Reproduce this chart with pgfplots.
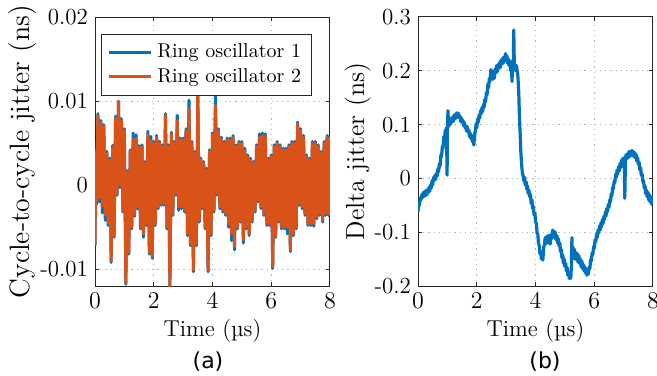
\documentclass[border=0pt]{standalone}
\usepackage{fontspec}
\usepackage{pgfplots}
\pgfplotsset{compat=1.18}
\newfontfamily\labelsans{DejaVu Sans}
\definecolor{mblue}{RGB}{0,114,189}
\definecolor{morange}{RGB}{217,83,25}
\pgfplotsset{
  myaxis/.style={
    scale only axis, width=117.5pt, height=134.5pt,
    xmin=0, xmax=8, xtick={0,2,4,6,8},
    axis line style={black!85, line width=0.5pt},
    tick style={black!85, line width=0.5pt},
    tick align=inside, major tick length=2pt,
    grid=major, grid style={black!30, line width=0.5pt, dash pattern=on 0.6pt off 2pt},
    tick label style={font=\fontsize{11.5}{13}\selectfont},
    xlabel={Time (µs)},
    xlabel style={font=\fontsize{11.5}{13}\selectfont, at={(axis description cs:0.5,-0.167)}, anchor=center},
    scaled y ticks=false,
    clip=true,
  }
}
\begin{document}
\begin{tikzpicture}[x=1pt,y=1pt]
\path[use as bounding box] (0,0) rectangle (328.5,187.5);
\begin{axis}[myaxis, at={(47.5pt,44.5pt)}, anchor=south west,
  ymin=-0.012, ymax=0.02, ytick={-0.01,0,0.01,0.02}, yticklabels={-0.01,0,0.01,0.02},
  ylabel={Cycle-to-cycle jitter (ns)},
  ylabel style={font=\fontsize{14}{16}\selectfont, at={(axis description cs:-0.3085,0.5)}, anchor=center, rotate=0},
  legend style={at={(axis description cs:0.0255,0.938)}, anchor=north west, draw=black!85, line width=0.5pt,
    font=\fontsize{10}{12}\selectfont, inner xsep=3pt, inner ysep=3pt, row sep=0pt, fill=white,
    nodes={inner xsep=2.4pt, inner ysep=1.9pt}},
  legend cell align=left,
  legend image code/.code={\draw[#1, line width=1.5pt] (0pt,0pt) -- (21pt,0pt);},
]
\addplot[mblue, line width=1.5pt, line join=round] coordinates {
(0,-0.0072) (0.03,0.0042) (0.05,-0.0023)
(0.1,0.0085)(0.15,-0.0020)(0.2,0.0077)(0.25,-0.0033)(0.3,0.0072)(0.35,-0.0042)
(0.4,0.0040)(0.45,-0.0048)(0.5,0.0032)(0.55,-0.0092)(0.6,0.0047)(0.65,-0.0062)
(0.7,0.0082)(0.75,-0.0012)(0.8,0.0100)(0.85,-0.0003)(0.9,0.0079)(0.95,-0.0032)
(1.0,0.0067)(1.05,-0.0118)(1.1,0.0017)(1.15,-0.0082)(1.2,0.0042)(1.25,-0.0052)
(1.3,0.0062)(1.35,-0.0037)(1.4,0.0060)(1.45,-0.0028)(1.5,0.0047)(1.55,-0.0052)
(1.6,0.0048)(1.65,-0.0062)(1.7,0.0028)(1.75,-0.0048)(1.8,0.0064)(1.85,-0.0082)
(1.9,0.0058)(1.95,-0.0087)(2.0,0.0052)(2.05,-0.0048)(2.1,0.0059)(2.15,-0.0028)
(2.2,0.0052)(2.25,-0.0024)(2.3,0.0048)(2.35,-0.0024)(2.4,0.0085)(2.45,-0.0052)
(2.5,0.0048)(2.55,-0.0122)(2.6,0.0063)(2.65,-0.0036)(2.7,0.0052)(2.75,-0.0012)
(2.8,0.0083)(2.85,-0.0030)(2.9,0.0056)(2.95,-0.0028)(3.0,0.0056)(3.05,-0.0032)
(3.1,0.0067)(3.15,-0.0060)(3.2,0.0101)(3.25,-0.0072)(3.3,0.0052)(3.35,-0.0103)
(3.4,0.0040)(3.45,-0.0072)(3.5,0.0108)(3.55,-0.0044)(3.6,0.0032)(3.65,-0.0028)
(3.7,0.0028)(3.75,-0.0052)(3.8,0.0020)(3.85,-0.0103)(3.9,0.0042)(3.95,-0.0060)
(4.0,0.0062)(4.05,-0.0032)(4.1,0.0107)(4.15,-0.0012)(4.2,0.0067)(4.25,-0.0028)
(4.3,0.0057)(4.35,-0.0032)(4.4,0.0052)(4.45,-0.0036)(4.5,0.0056)(4.55,-0.0050)
(4.6,0.0056)(4.65,-0.0066)(4.7,0.0059)(4.75,-0.0077)(4.8,0.0048)(4.85,-0.0052)
(4.9,0.0052)(4.95,-0.0044)(5.0,0.0052)(5.05,-0.0069)(5.1,0.0044)(5.15,-0.0052)
(5.2,0.0036)(5.25,-0.0060)(5.3,0.0032)(5.35,-0.0044)(5.4,0.0028)(5.45,-0.0032)
(5.5,0.0048)(5.55,-0.0020)(5.6,0.0061)(5.65,-0.0028)(5.7,0.0062)(5.75,-0.0036)
(5.8,0.0061)(5.85,-0.0048)(5.9,0.0032)(5.95,-0.0048)(6.0,0.0036)(6.05,-0.0099)
(6.1,0.0048)(6.15,-0.0062)(6.2,0.0052)(6.25,-0.0044)(6.3,0.0048)(6.35,-0.0052)
(6.4,0.0044)(6.45,-0.0052)(6.5,0.0044)(6.55,-0.0058)(6.6,0.0048)(6.65,-0.0079)
(6.7,0.0052)(6.75,-0.0060)(6.8,0.0052)(6.85,-0.0052)(6.9,0.0075)(6.95,-0.0024)
(7.0,0.0067)(7.05,-0.0028)(7.1,0.0059)(7.15,-0.0036)(7.2,0.0036)(7.25,-0.0048)
(7.3,0.0032)(7.35,-0.0048)(7.4,0.0052)(7.45,-0.0049)(7.5,0.0052)(7.55,-0.0040)
(7.6,0.0048)(7.65,-0.0036)(7.7,0.0040)(7.75,-0.0044)(7.8,0.0052)(7.85,-0.0036)
(7.9,0.0059)(7.95,-0.0036)(8.0,0.0059)
};
\addlegendentry{Ring oscillator 1}
\addplot[morange, line width=1.5pt, line join=round] coordinates {
(0,-0.0070) (0.03,0.0040) (0.05,-0.0020)
(0.1,0.0083)(0.15,-0.0015)(0.2,0.0075)(0.25,-0.0025)(0.3,0.0070)(0.35,-0.0035)
(0.4,0.0038)(0.45,-0.0045)(0.5,0.0030)(0.55,-0.0090)(0.6,0.0045)(0.65,-0.0060)
(0.7,0.0080)(0.75,-0.0010)(0.8,0.0099)(0.85,0.0000)(0.9,0.0077)(0.95,-0.0030)
(1.0,0.0065)(1.05,-0.0116)(1.1,0.0015)(1.15,-0.0080)(1.2,0.0040)(1.25,-0.0050)
(1.3,0.0055)(1.35,-0.0035)(1.4,0.0055)(1.45,-0.0026)(1.5,0.0045)(1.55,-0.0050)
(1.6,0.0046)(1.65,-0.0058)(1.7,0.0026)(1.75,-0.0046)(1.8,0.0060)(1.85,-0.0080)
(1.9,0.0053)(1.95,-0.0085)(2.0,0.0050)(2.05,-0.0046)(2.1,0.0057)(2.15,-0.0026)
(2.2,0.0050)(2.25,-0.0022)(2.3,0.0046)(2.35,-0.0022)(2.4,0.0083)(2.45,-0.0050)
(2.5,0.0046)(2.55,-0.0120)(2.6,0.0061)(2.65,-0.0034)(2.7,0.0050)(2.75,-0.0010)
(2.8,0.0077)(2.85,-0.0026)(2.9,0.0054)(2.95,-0.0026)(3.0,0.0054)(3.05,-0.0030)
(3.1,0.0065)(3.15,-0.0058)(3.2,0.0091)(3.25,-0.0070)(3.3,0.0050)(3.35,-0.0101)
(3.4,0.0038)(3.45,-0.0070)(3.5,0.0111)(3.55,-0.0042)(3.6,0.0030)(3.65,-0.0026)
(3.7,0.0026)(3.75,-0.0050)(3.8,0.0018)(3.85,-0.0101)(3.9,0.0040)(3.95,-0.0058)
(4.0,0.0060)(4.05,-0.0030)(4.1,0.0095)(4.15,-0.0010)(4.2,0.0065)(4.25,-0.0026)
(4.3,0.0055)(4.35,-0.0030)(4.4,0.0050)(4.45,-0.0034)(4.5,0.0054)(4.55,-0.0046)
(4.6,0.0054)(4.65,-0.0058)(4.7,0.0057)(4.75,-0.0073)(4.8,0.0046)(4.85,-0.0050)
(4.9,0.0050)(4.95,-0.0042)(5.0,0.0050)(5.05,-0.0065)(5.1,0.0042)(5.15,-0.0050)
(5.2,0.0034)(5.25,-0.0058)(5.3,0.0030)(5.35,-0.0042)(5.4,0.0026)(5.45,-0.0030)
(5.5,0.0046)(5.55,-0.0018)(5.6,0.0057)(5.65,-0.0026)(5.7,0.0059)(5.75,-0.0034)
(5.8,0.0059)(5.85,-0.0046)(5.9,0.0030)(5.95,-0.0046)(6.0,0.0034)(6.05,-0.0097)
(6.1,0.0046)(6.15,-0.0060)(6.2,0.0050)(6.25,-0.0042)(6.3,0.0046)(6.35,-0.0050)
(6.4,0.0042)(6.45,-0.0050)(6.5,0.0042)(6.55,-0.0050)(6.6,0.0046)(6.65,-0.0077)
(6.7,0.0050)(6.75,-0.0058)(6.8,0.0050)(6.85,-0.0050)(6.9,0.0073)(6.95,-0.0022)
(7.0,0.0065)(7.05,-0.0026)(7.1,0.0057)(7.15,-0.0034)(7.2,0.0034)(7.25,-0.0046)
(7.3,0.0030)(7.35,-0.0046)(7.4,0.0050)(7.45,-0.0046)(7.5,0.0050)(7.55,-0.0038)
(7.6,0.0046)(7.65,-0.0034)(7.7,0.0038)(7.75,-0.0042)(7.8,0.0050)(7.85,-0.0034)
(7.9,0.0057)(7.95,-0.0034)(8.0,0.0057)
};
\addlegendentry{Ring oscillator 2}
\end{axis}
\begin{axis}[myaxis, at={(209pt,44.5pt)}, anchor=south west,
  ymin=-0.2, ymax=0.3, ytick={-0.2,-0.1,0,0.1,0.2,0.3}, yticklabels={-0.2,-0.1,0,0.1,0.2,0.3},
  ylabel={Delta jitter (ns)},
  ylabel style={font=\fontsize{13}{15}\selectfont, at={(axis description cs:-0.257,0.5)}, anchor=center},
]
\addplot[mblue, line width=1.6pt, line join=round] coordinates {
(0.00,-0.062) (0.03,-0.048) (0.05,-0.050) (0.08,-0.036) (0.10,-0.040) (0.13,-0.030) (0.15,-0.036) (0.18,-0.026)
(0.20,-0.034) (0.23,-0.024) (0.25,-0.032) (0.28,-0.022) (0.30,-0.031) (0.33,-0.020) (0.35,-0.027) (0.38,-0.016)
(0.40,-0.024) (0.43,-0.012) (0.45,-0.018) (0.48,-0.004) (0.50,-0.012) (0.53,0.002) (0.55,-0.004) (0.58,0.006)
(0.60,-0.002) (0.63,0.010) (0.65,0.004) (0.68,0.018) (0.70,0.012) (0.73,0.028) (0.75,0.022) (0.78,0.044)
(0.80,0.040) (0.83,0.060) (0.85,0.055) (0.88,0.078) (0.90,0.070) (0.93,0.090) (0.95,0.082) (0.97,0.094)
(0.99,0.006) (1.00,0.088) (1.02,0.126) (1.04,0.096) (1.07,0.110) (1.10,0.100) (1.13,0.112) (1.15,0.104)
(1.18,0.114) (1.20,0.106) (1.23,0.118) (1.25,0.110) (1.28,0.120) (1.30,0.112) (1.33,0.122) (1.35,0.114)
(1.38,0.121) (1.40,0.113) (1.43,0.116) (1.45,0.106) (1.48,0.112) (1.50,0.104) (1.53,0.108) (1.55,0.098)
(1.58,0.104) (1.60,0.094) (1.63,0.098) (1.65,0.088) (1.68,0.096) (1.70,0.086) (1.73,0.090) (1.75,0.078)
(1.78,0.084) (1.80,0.074) (1.83,0.080) (1.85,0.068) (1.88,0.072) (1.90,0.062) (1.93,0.082) (1.95,0.088)
(1.98,0.102) (2.00,0.094) (2.03,0.110) (2.05,0.104) (2.08,0.118) (2.10,0.112) (2.13,0.126) (2.15,0.120)
(2.18,0.132) (2.20,0.124) (2.23,0.138) (2.25,0.132) (2.28,0.148) (2.30,0.142) (2.33,0.160) (2.35,0.155)
(2.38,0.176) (2.40,0.168) (2.43,0.186) (2.45,0.180) (2.48,0.202) (2.50,0.192) (2.53,0.200) (2.55,0.184)
(2.58,0.198) (2.60,0.186) (2.63,0.204) (2.65,0.196) (2.68,0.210) (2.70,0.198) (2.73,0.212) (2.75,0.204)
(2.78,0.216) (2.80,0.206) (2.83,0.220) (2.85,0.212) (2.88,0.224) (2.90,0.214) (2.93,0.226) (2.95,0.218)
(2.98,0.232) (3.00,0.220) (3.03,0.228) (3.05,0.214) (3.08,0.222) (3.10,0.210) (3.13,0.218) (3.15,0.200)
(3.18,0.212) (3.20,0.180) (3.22,0.214) (3.24,0.200) (3.26,0.276) (3.28,0.205) (3.30,0.212) (3.33,0.200)
(3.35,0.210) (3.38,0.198) (3.40,0.190) (3.43,0.160) (3.45,0.120) (3.48,0.080) (3.50,0.050) (3.53,0.024)
(3.55,0.012) (3.58,0.004) (3.60,-0.004) (3.63,0.002) (3.65,-0.012) (3.68,-0.006) (3.70,-0.020) (3.73,-0.014)
(3.75,-0.028) (3.78,-0.022) (3.80,-0.034) (3.83,-0.030) (3.85,-0.046) (3.88,-0.040) (3.90,-0.056) (3.93,-0.052)
(3.95,-0.068) (3.98,-0.064) (4.00,-0.080) (4.03,-0.084) (4.05,-0.100) (4.08,-0.104) (4.10,-0.120) (4.13,-0.126)
(4.15,-0.140) (4.18,-0.136) (4.20,-0.150) (4.23,-0.140) (4.25,-0.152) (4.28,-0.128) (4.30,-0.124) (4.33,-0.110)
(4.35,-0.122) (4.38,-0.108) (4.40,-0.118) (4.43,-0.106) (4.45,-0.120) (4.48,-0.110) (4.50,-0.122) (4.53,-0.104)
(4.55,-0.112) (4.58,-0.096) (4.60,-0.106) (4.63,-0.098) (4.65,-0.110) (4.68,-0.100) (4.70,-0.114) (4.73,-0.106)
(4.75,-0.120) (4.78,-0.112) (4.80,-0.126) (4.83,-0.120) (4.85,-0.136) (4.88,-0.132) (4.90,-0.148) (4.93,-0.142)
(4.95,-0.158) (4.98,-0.150) (5.00,-0.164) (5.03,-0.158) (5.05,-0.172) (5.08,-0.166) (5.10,-0.180) (5.13,-0.174)
(5.15,-0.186) (5.18,-0.178) (5.20,-0.186) (5.22,-0.166) (5.24,-0.110) (5.26,-0.150) (5.28,-0.128) (5.30,-0.146)
(5.33,-0.132) (5.35,-0.150) (5.38,-0.138) (5.40,-0.152) (5.43,-0.140) (5.45,-0.156) (5.48,-0.144) (5.50,-0.158)
(5.53,-0.150) (5.55,-0.164) (5.58,-0.154) (5.60,-0.168) (5.63,-0.160) (5.65,-0.172) (5.68,-0.164) (5.70,-0.176)
(5.73,-0.168) (5.75,-0.180) (5.78,-0.170) (5.80,-0.178) (5.83,-0.164) (5.85,-0.168) (5.88,-0.150) (5.90,-0.154)
(5.93,-0.138) (5.95,-0.142) (5.98,-0.126) (6.00,-0.130) (6.03,-0.114) (6.05,-0.118) (6.08,-0.104) (6.10,-0.110)
(6.13,-0.096) (6.15,-0.102) (6.18,-0.088) (6.20,-0.096) (6.23,-0.082) (6.25,-0.090) (6.28,-0.076) (6.30,-0.084)
(6.33,-0.070) (6.35,-0.076) (6.38,-0.062) (6.40,-0.070) (6.43,-0.056) (6.45,-0.062) (6.48,-0.048) (6.50,-0.054)
(6.53,-0.040) (6.55,-0.044) (6.58,-0.028) (6.60,-0.032) (6.63,-0.016) (6.65,-0.020) (6.68,-0.004) (6.70,-0.008)
(6.73,0.008) (6.75,0.002) (6.78,0.016) (6.80,0.008) (6.83,0.022) (6.85,0.014) (6.88,0.028) (6.90,0.020)
(6.93,0.034) (6.95,0.024) (6.98,0.038) (7.00,0.028) (7.02,0.036) (7.04,-0.037) (7.06,0.030) (7.08,0.044)
(7.10,0.036) (7.13,0.046) (7.15,0.038) (7.18,0.050) (7.20,0.040) (7.23,0.050) (7.25,0.042) (7.28,0.052)
(7.30,0.044) (7.33,0.050) (7.35,0.040) (7.38,0.048) (7.40,0.038) (7.43,0.044) (7.45,0.032) (7.48,0.038)
(7.50,0.026) (7.53,0.030) (7.55,0.016) (7.58,0.020) (7.60,0.006) (7.63,0.008) (7.65,-0.006) (7.68,-0.004)
(7.70,-0.018) (7.73,-0.014) (7.75,-0.028) (7.78,-0.022) (7.80,-0.034) (7.83,-0.026) (7.85,-0.040) (7.88,-0.030)
(7.90,-0.044) (7.93,-0.034) (7.95,-0.048) (7.98,-0.036) (8.00,-0.046)
};
\end{axis}
\node[font=\labelsans\fontsize{11}{13}\selectfont] at (104,6.5) {(a)};
\node[font=\labelsans\fontsize{11}{13}\selectfont] at (272.5,6.5) {(b)};
\end{tikzpicture}
\end{document}
